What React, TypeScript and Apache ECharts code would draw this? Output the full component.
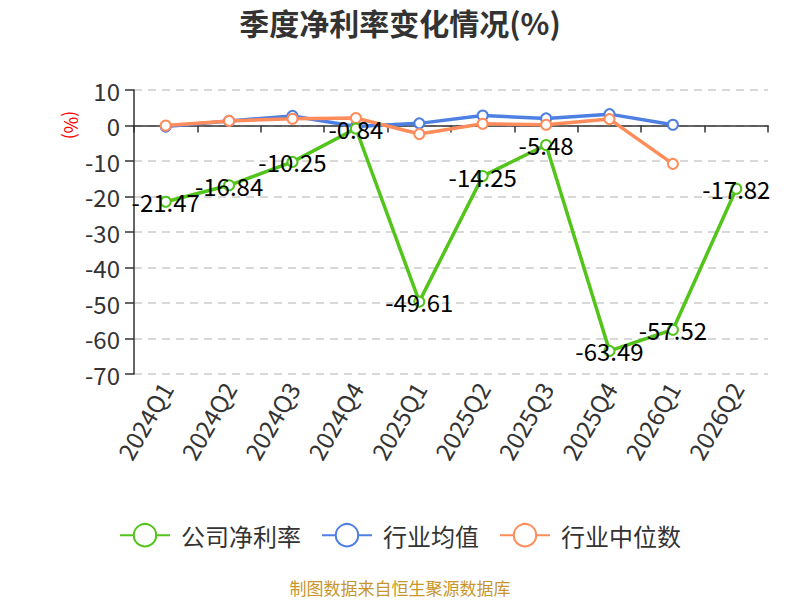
import React, { useEffect, useRef } from "react";
import * as echarts from "echarts";

const categories = ["2024Q1", "2024Q2", "2024Q3", "2024Q4", "2025Q1", "2025Q2", "2025Q3", "2025Q4", "2026Q1", "2026Q2"];
const companyRate = [-21.47, -16.84, -10.25, -0.84, -49.61, -14.25, -5.48, -63.49, -57.52, -17.82];
const industryAvg = [-0.3, 1.3, 2.7, -0.3, 0.6, 2.8, 2.0, 3.2, 0.2, null];
const industryMedian = [0, 1.3, 1.9, 2.1, -2.4, 0.5, 0.2, 1.8, -10.8, null];
const yTicks = { min: -70, max: 10, interval: 10 };

const FONT = "'Noto Sans CJK SC', 'Noto Sans', sans-serif";

export default function App() {
  const ref = useRef<HTMLDivElement>(null);
  useEffect(() => {
    if (!ref.current) return;
    const chart = echarts.init(ref.current, null, { renderer: "svg" });
    chart.setOption({
      animation: false,
      textStyle: { fontFamily: FONT },
      title: {
        text: "季度净利率变化情况(%)",
        left: "center",
        top: 2,
        textStyle: { fontSize: 30, fontWeight: "bold", color: "#333", fontFamily: FONT },
      },
      grid: { left: 134, right: 32, top: 90, bottom: 226 },
      legend: {
        top: 518,
        left: "center",
        itemWidth: 50,
        itemHeight: 28,
        itemGap: 20,
        textStyle: { fontSize: 24, color: "#333", fontFamily: FONT, padding: [0, 0, 0, 6] },
        data: ["公司净利率", "行业均值", "行业中位数"],
      },
      graphic: [
        {
          type: "text",
          x: 72,
          y: 125,
          rotation: -Math.PI / 2,
          style: {
            text: "(%)",
            fill: "#ff0000",
            fontSize: 18,
            fontFamily: FONT,
            align: "center",
            verticalAlign: "middle",
          },
        },
        {
          type: "text",
          x: 400,
          y: 587,
          style: {
            text: "制图数据来自恒生聚源数据库",
            fill: "#c8962d",
            fontSize: 17,
            fontFamily: FONT,
            align: "center",
            verticalAlign: "middle",
          },
        },
      ],
      xAxis: [
        {
          type: "category",
          data: categories,
          position: "bottom",
          axisLine: { onZero: true, lineStyle: { color: "#333", width: 1.5 } },
          axisTick: { show: true, length: 7, lineStyle: { color: "#333", width: 1.5 } },
          axisLabel: { show: false },
          splitLine: { show: false },
        },
        {
          type: "category",
          data: categories,
          position: "bottom",
          axisLine: { show: false, onZero: false },
          axisTick: { show: false },
          axisLabel: { show: true, rotate: 60, fontSize: 24, color: "#333", margin: 10, fontFamily: FONT, interval: 0 },
          splitLine: { show: false },
        },
      ],
      yAxis: {
        type: "value",
        min: yTicks.min,
        max: yTicks.max,
        interval: yTicks.interval,
        axisLine: { show: true, lineStyle: { color: "#333", width: 1.5 } },
        axisTick: { show: true, length: 9, lineStyle: { color: "#333", width: 1.5 } },
        axisLabel: { fontSize: 24, color: "#333", margin: 14, fontFamily: FONT },
        splitLine: { show: true, lineStyle: { type: [8, 6], color: "#ccc", width: 1.5 } },
      },
      series: [
        {
          name: "公司净利率",
          type: "line",
          data: companyRate,
          xAxisIndex: 0,
          symbol: "emptyCircle",
          symbolSize: 10,
          lineStyle: { width: 3.5, color: "#52c41a" },
          itemStyle: { color: "#52c41a" },
          label: { show: true, position: "inside", color: "#000", fontSize: 24, fontFamily: FONT },
          z: 3,
        },
        {
          name: "行业均值",
          type: "line",
          data: industryAvg,
          xAxisIndex: 0,
          symbol: "emptyCircle",
          symbolSize: 10,
          lineStyle: { width: 3.5, color: "#4e7fe3" },
          itemStyle: { color: "#4e7fe3" },
          z: 2,
        },
        {
          name: "行业中位数",
          type: "line",
          data: industryMedian,
          xAxisIndex: 0,
          symbol: "emptyCircle",
          symbolSize: 10,
          lineStyle: { width: 3.5, color: "#ff8c5a" },
          itemStyle: { color: "#ff8c5a" },
          z: 2,
        },
      ],
    });
    return () => chart.dispose();
  }, []);
  return <div ref={ref} style={{ position: "absolute", left: 0, top: 0, width: 800, height: 600 }} />;
}
